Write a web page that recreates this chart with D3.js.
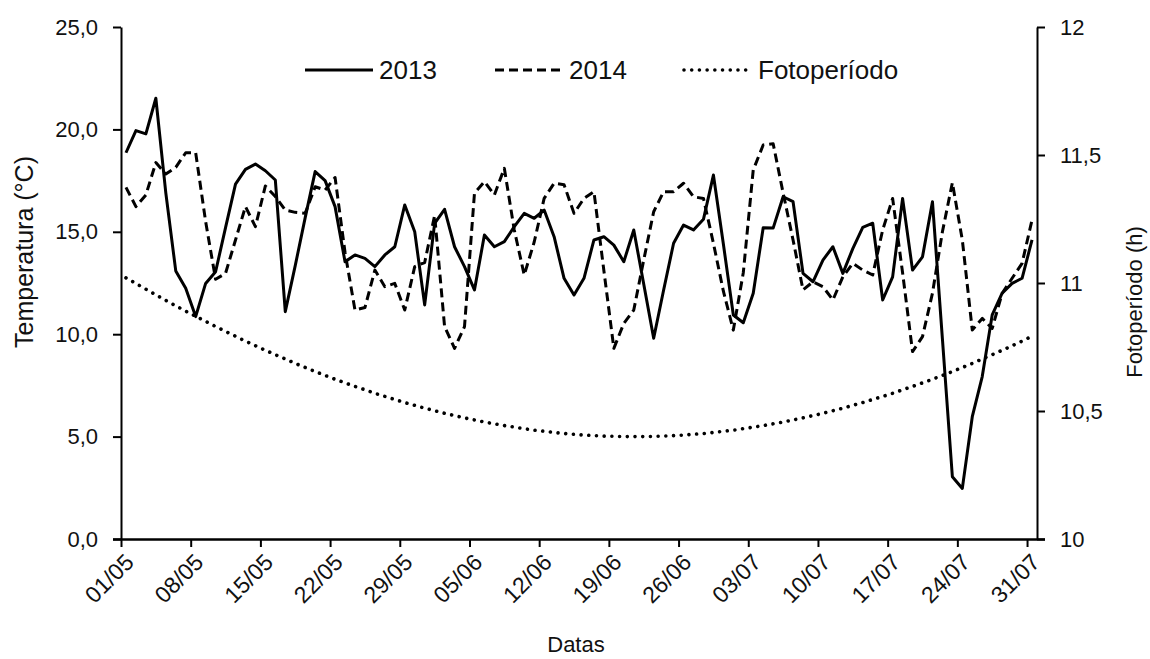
<!DOCTYPE html>
<html>
<head>
<meta charset="utf-8">
<script src="https://cdn.jsdelivr.net/npm/d3@7"></script>
<style>
  html, body { margin: 0; padding: 0; background: #fff; }
  svg { display: block; font-family: "Liberation Sans", Arial, sans-serif; }
</style>
</head>
<body>
<svg id="chart" width="1150" height="659"></svg>
<script>
// Daily mean temperature (°C), 01/05 to 31/07
const temp2013 = [
  18.86, 19.94, 19.78, 21.52, 16.9, 13.09, 12.24, 10.86, 12.48, 13.05,
  15.2, 17.33, 18.05, 18.31, 17.98, 17.53, 11.1, 13.35, 15.69, 17.94,
  17.5, 16.23, 13.54, 13.87, 13.7, 13.3, 13.87, 14.27, 16.31, 15.0,
  11.43, 15.41, 16.1, 14.27, 13.3, 12.16, 14.84, 14.27, 14.52, 15.25,
  15.9, 15.66, 16.06, 14.76, 12.73, 11.91, 12.73, 14.6, 14.76, 14.35,
  13.54, 15.09, 12.45, 9.8, 12.16, 14.44, 15.33, 15.09, 15.61, 17.77,
  14.4, 10.94, 10.56, 12.0, 15.2, 15.18, 16.71, 16.47, 12.97, 12.56,
  13.62, 14.27, 12.97, 14.18, 15.22, 15.42, 11.67, 12.8, 16.63, 13.13,
  13.78, 16.47, 9.77, 3.04, 2.47, 5.97, 7.93, 10.94, 12.0, 12.48,
  12.73, 14.6
];
const temp2014 = [
  17.17, 16.23, 16.8, 18.38, 17.82, 18.15, 18.86, 18.86, 15.5, 12.68,
  12.97, 14.6, 16.23, 15.25, 17.24, 16.72, 16.06, 15.95, 15.9, 17.2,
  17.04, 17.65, 14.0, 11.18, 11.3, 13.13, 12.32, 12.48, 11.18, 13.3,
  13.5, 15.8, 10.37, 9.31, 10.37, 16.88, 17.45, 16.8, 18.1, 15.09,
  12.89, 14.5, 16.63, 17.37, 17.3, 15.9, 16.63, 16.96, 13.1, 9.31,
  10.53, 11.18, 13.62, 15.98, 16.96, 16.96, 17.37, 16.71, 16.63, 14.44,
  12.1, 10.2, 13.0, 18.02, 19.24, 19.3, 16.9, 14.6, 12.16, 12.56,
  12.32, 11.67, 12.8, 13.46, 13.13, 12.89, 15.09, 16.63, 13.0, 9.15,
  9.88, 12.0, 15.0, 17.4, 14.6, 10.2, 10.77, 10.28, 12.0, 12.73,
  13.46, 15.58
];
// Day length (h)
const photoperiod = [
  11.020, 10.998, 10.976, 10.954, 10.932, 10.911, 10.890, 10.870, 10.850, 10.830,
  10.811, 10.792, 10.773, 10.755, 10.737, 10.720, 10.703, 10.686, 10.670, 10.654,
  10.639, 10.624, 10.610, 10.596, 10.583, 10.569, 10.557, 10.545, 10.533, 10.522,
  10.511, 10.501, 10.491, 10.482, 10.473, 10.465, 10.457, 10.450, 10.443, 10.437,
  10.431, 10.425, 10.421, 10.416, 10.412, 10.409, 10.406, 10.404, 10.402, 10.401,
  10.400, 10.400, 10.400, 10.401, 10.402, 10.404, 10.406, 10.409, 10.412, 10.416,
  10.421, 10.425, 10.431, 10.437, 10.443, 10.450, 10.457, 10.465, 10.473, 10.482,
  10.491, 10.501, 10.511, 10.522, 10.533, 10.545, 10.557, 10.569, 10.583, 10.596,
  10.610, 10.624, 10.639, 10.654, 10.670, 10.686, 10.703, 10.720, 10.737, 10.755,
  10.773, 10.792
];
// Weekly date ticks (day index from 01/05) and their labels
const tickDays = [0, 7, 14, 21, 28, 35, 42, 49, 56, 63, 70, 77, 84, 91];
const tickLabels = ["01/05", "08/05", "15/05", "22/05", "29/05", "05/06", "12/06",
                    "19/06", "26/06", "03/07", "10/07", "17/07", "24/07", "31/07"];
const tempTicks = [0, 5, 10, 15, 20, 25];
const photoTicks = [10, 10.5, 11, 11.5, 12];

const svg = d3.select("#chart");
const M = { left: 121, right: 1037, top: 27, bottom: 539 };
const ink = "#000";
const textInk = "#111";

const ptBR = d3.formatLocale({ decimal: ",", thousands: ".", grouping: [3], currency: ["R$", ""] });
const fmtTemp = ptBR.format(".1f");
const fmtPhoto = ptBR.format(".1~f");

const x = d3.scaleLinear().domain([0, 92]).range([M.left, M.right]);
const y = d3.scaleLinear().domain([0, 25]).range([M.bottom, M.top]);
const y2 = d3.scaleLinear().domain([10, 12]).range([M.bottom, M.top]);

// Axes
const axisFont = 22;
const gL = svg.append("g").attr("transform", `translate(${M.left},0)`)
  .call(d3.axisLeft(y).tickValues(tempTicks).tickFormat(fmtTemp).tickSize(8).tickPadding(15).tickSizeOuter(0));
const gR = svg.append("g").attr("transform", `translate(${M.right},0)`)
  .call(d3.axisRight(y2).tickValues(photoTicks).tickFormat(fmtPhoto).tickSize(8).tickPadding(15).tickSizeOuter(0));
const gB = svg.append("g").attr("transform", `translate(0,${M.bottom})`)
  .call(d3.axisBottom(x).tickValues(tickDays).tickFormat((d, i) => tickLabels[i]).tickSize(8).tickPadding(10).tickSizeOuter(0));

[gL, gR, gB].forEach(g => {
  g.selectAll("path.domain").attr("stroke", ink).attr("stroke-width", 2);
  g.selectAll(".tick line").attr("stroke", ink).attr("stroke-width", 2);
  g.selectAll(".tick text").attr("fill", textInk).attr("font-size", axisFont)
    .attr("font-family", "'Liberation Sans', Arial, sans-serif");
});
// baseline extends under the outer tick marks on both sides
gB.select("path.domain").attr("d", `M${M.left - 8},0.5H${M.right + 8}`).attr("stroke-width", 2.5);

gB.selectAll(".tick text")
  .attr("font-size", 23)
  .attr("text-anchor", "end")
  .attr("dy", "0.35em")
  .attr("transform", "translate(8,19) rotate(-45)")
  .attr("x", 0).attr("y", 0);

// Axis titles
svg.append("text").attr("transform", "translate(33,252) rotate(-90)")
  .attr("text-anchor", "middle").attr("font-size", 25).attr("fill", textInk)
  .text("Temperatura (°C)");
svg.append("text").attr("transform", "translate(1142,302) rotate(-90)")
  .attr("text-anchor", "middle").attr("font-size", 22).attr("fill", textInk)
  .text("Fotoperíodo (h)");
svg.append("text").attr("x", 576).attr("y", 652)
  .attr("text-anchor", "middle").attr("font-size", 22).attr("fill", textInk)
  .text("Datas");

// Series
const lineT = d3.line().x((d, i) => x(i + 0.5)).y(d => y(d));
const lineP = d3.line().x((d, i) => x(i + 0.5)).y(d => y2(d));

const styles = {
  s2013: { dash: null, width: 3, cap: "butt" },
  s2014: { dash: "9,5", width: 3, cap: "butt" },
  sPhoto: { dash: "0.01,7.7", width: 3.6, cap: "round" }
};

function styled(sel, s) {
  return sel.attr("fill", "none").attr("stroke", ink)
    .attr("stroke-width", s.width).attr("stroke-linecap", s.cap)
    .attr("stroke-linejoin", "round")
    .attr("stroke-dasharray", s.dash);
}

styled(svg.append("path").attr("d", lineP(photoperiod)), styles.sPhoto);
styled(svg.append("path").attr("d", lineT(temp2014)), styles.s2014);
styled(svg.append("path").attr("d", lineT(temp2013)), styles.s2013);

// Legend
const legend = [
  { label: "2013", s: styles.s2013, x0: 305 },
  { label: "2014", s: styles.s2014, x0: 495 },
  { label: "Fotoperíodo", s: styles.sPhoto, x0: 684 }
];
const lg = svg.append("g");
legend.forEach(e => {
  styled(lg.append("line").attr("x1", e.x0).attr("x2", e.x0 + 68).attr("y1", 70).attr("y2", 70), e.s);
  lg.append("text").attr("x", e.x0 + 74).attr("y", 79).attr("font-size", 26).attr("fill", textInk).text(e.label);
});
</script>
</body>
</html>
